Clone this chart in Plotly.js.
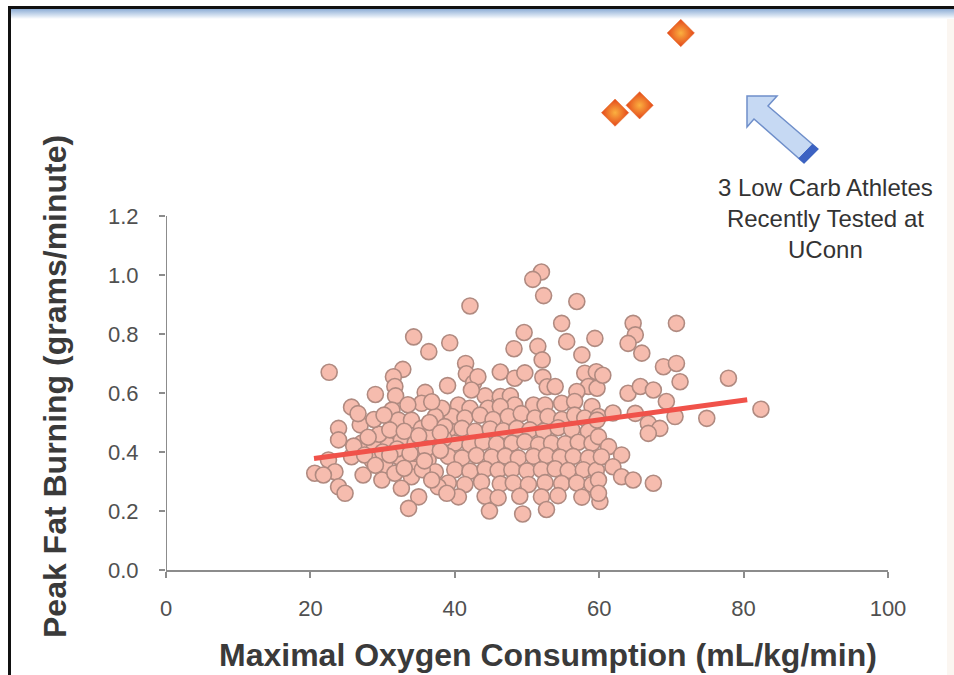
<!DOCTYPE html>
<html>
<head>
<meta charset="utf-8">
<script src="https://cdn.plot.ly/plotly-3.0.1.min.js"></script>
<style>
  html, body { margin: 0; padding: 0; background: #ffffff; }
  #wrap { position: relative; width: 954px; height: 675px; overflow: hidden; }
  #chart { position: absolute; left: 0; top: 0; width: 954px; height: 675px; }
  .frame { position: absolute; pointer-events: none; }
</style>
</head>
<body>
<div id="wrap">
  <div id="chart"></div>
  <div class="frame" style="left:8px;top:6px;width:946px;height:3px;background:#111;"></div>
  <div class="frame" style="left:11px;top:9px;width:943px;height:10px;background:linear-gradient(#8eaed6,#dbe6f3 70%,#ffffff);"></div>
  <div class="frame" style="left:8px;top:6px;width:3px;height:669px;background:#111;"></div>
  <div class="frame" style="left:947px;top:19px;width:7px;height:656px;background:#fbf6f1;"></div>
</div>
<script>
// ---- Data ----
// Maximal oxygen consumption (mL/kg/min) of tested subjects
const vo2max = [
  52.0,50.8,52.3,42.1,56.9,34.3,36.4,39.3,49.6,48.2,51.5,52.1,22.6,32.8,31.5,31.7,31.8,41.5,41.6,42.6,43.2,46.3,48.3,49.7,52.2,52.8,29.0,35.9,39.0,44.2,46.3,47.7,
  54.8,55.5,59.4,57.6,53.9,58.0,59.6,58.5,56.9,42.3,48.3,50.9,52.5,54.8,56.6,59.0,40.5,42.1,44.6,46.3,
  39.6,41.4,43.5,45.3,47.4,49.2,51.1,52.9,54.8,56.6,58.0,59.9,
  39.1,41.0,42.8,44.9,46.7,48.6,50.4,52.3,54.3,56.2,58.5,
  40.0,42.1,43.9,45.8,47.9,49.7,51.6,53.4,55.3,57.1,59.0,
  39.1,41.0,43.0,45.1,47.0,48.8,50.9,52.7,54.6,56.4,58.5,
  40.0,42.1,44.2,46.0,47.9,50.0,52.0,53.9,55.7,57.8,59.6,
  39.1,41.4,43.7,46.3,48.1,50.2,52.5,54.8,56.9,59.0,
  40.5,44.2,46.0,49.0,52.0,54.3,57.6,44.8,49.4,52.7,60.1,
  64.7,70.7,65.0,64.0,65.9,68.9,70.7,71.2,77.9,64.0,65.7,67.5,69.3,59.7,70.5,74.9,66.8,68.4,66.8,65.0,82.4,59.9,61.3,63.1,60.3,61.9,63.1,64.7,67.5,59.9,60.5,59.7,61.9,59.9,
  25.7,26.9,23.9,23.9,31.3,32.2,34.0,35.4,38.2,37.3,35.4,38.6,27.1,28.9,30.8,32.6,34.5,37.3,38.5,22.5,25.7,28.5,30.3,32.2,34.0,36.3,20.6,23.4,27.3,29.9,31.7,34.0,37.3,23.9,24.8,32.6,35.0,37.7,38.9,33.6,21.8,34.7,36.6,
  29.5,31.0,33.0,35.0,36.5,38.0,30.0,32.0,33.8,36.0,38.0,28.0,26.0,27.5,29.0,33.0,35.5,36.8,35.8,31.0,33.5,36.8,28.8,30.2,26.6
];
// Peak fat burning (grams/minute) of the same subjects
const peakFat = [
  1.01,0.985,0.93,0.895,0.91,0.79,0.74,0.77,0.805,0.75,0.758,0.712,0.67,0.68,0.655,0.622,0.59,0.70,0.665,0.634,0.655,0.671,0.65,0.668,0.653,0.621,0.595,0.602,0.625,0.59,0.588,0.59,
  0.836,0.774,0.785,0.729,0.622,0.667,0.672,0.622,0.605,0.61,0.559,0.559,0.559,0.565,0.571,0.554,0.559,0.548,0.548,0.554,
  0.52,0.515,0.525,0.51,0.52,0.53,0.515,0.52,0.51,0.525,0.515,0.52,
  0.475,0.48,0.47,0.478,0.472,0.48,0.475,0.47,0.482,0.476,0.47,
  0.43,0.425,0.433,0.428,0.43,0.435,0.425,0.43,0.428,0.433,0.43,
  0.385,0.38,0.388,0.383,0.386,0.38,0.385,0.388,0.382,0.385,0.38,
  0.34,0.335,0.342,0.338,0.34,0.336,0.34,0.343,0.337,0.34,0.338,
  0.295,0.29,0.298,0.292,0.295,0.29,0.296,0.293,0.295,0.29,
  0.248,0.25,0.245,0.25,0.248,0.252,0.247,0.2,0.19,0.205,0.232,
  0.836,0.836,0.797,0.768,0.735,0.689,0.70,0.638,0.65,0.599,0.622,0.61,0.571,0.616,0.52,0.514,0.497,0.48,0.463,0.531,0.545,0.452,0.418,0.39,0.384,0.35,0.316,0.305,0.294,0.305,0.66,0.508,0.532,0.26,
  0.552,0.492,0.48,0.441,0.542,0.508,0.508,0.565,0.548,0.52,0.48,0.486,0.43,0.418,0.424,0.441,0.43,0.435,0.445,0.373,0.384,0.373,0.356,0.384,0.356,0.373,0.328,0.333,0.322,0.305,0.328,0.316,0.333,0.282,0.26,0.277,0.248,0.282,0.26,0.209,0.322,0.395,0.463,
  0.46,0.475,0.47,0.455,0.50,0.465,0.40,0.41,0.395,0.41,0.405,0.45,0.42,0.39,0.355,0.345,0.34,0.305,0.37,0.39,0.56,0.57,0.51,0.525,0.53
];
// Linear trend line end points
const trendX = [20.5, 80.5];
const trendY = [0.378, 0.577];
// 3 low carb athletes
const athleteX = [62.2, 65.6, 71.3];
const athleteY = [1.55, 1.575, 1.82];
// Axis ticks
const xTicks = [0, 20, 40, 60, 80, 100];
const xTickText = ['0', '20', '40', '60', '80', '100'];
const yTicks = [0, 0.2, 0.4, 0.6, 0.8, 1.0, 1.2];
const yTickText = ['0.0', '0.2', '0.4', '0.6', '0.8', '1.0', '1.2'];
const xTitle = 'Maximal Oxygen Consumption (mL/kg/min)';
const yTitle = 'Peak Fat Burning (grams/minute)';
const noteText = '3 Low Carb Athletes<br>Recently Tested at<br>UConn';

// ---- Layout geometry ----
const W = 954, H = 675;
const M = { l: 166, r: 66, t: 15, b: 105 };
const plotW = W - M.l - M.r, plotH = H - M.t - M.b;
const yTop = 1.881;
function px(x) { return (x - M.l) / plotW; }
function py(y) { return (H - M.b - y) / plotH; }
function pathFrom(pts) {
  return 'M' + pts.map(p => px(p[0]).toFixed(4) + ',' + py(p[1]).toFixed(4)).join(' L') + ' Z';
}
const arrowPts = [[747,96],[777,96],[768,106],[818,149],[804,163],[754,119],[747,127]];
const capPts = [[812.5,144.3],[818,149],[804,163],[798.8,158.4]];

const axisGray = '#8c8c8c';
const tickFont = { family: 'Liberation Sans, Arial, sans-serif', size: 22, color: '#505050' };

const traces = [
  {
    type: 'scatter', mode: 'markers', x: vo2max, y: peakFat, name: 'Subjects',
    marker: { size: 16, color: '#f6bcae', line: { color: '#b08a80', width: 1.6 } },
    hoverinfo: 'x+y', showlegend: false
  },
  {
    type: 'scatter', mode: 'lines', x: trendX, y: trendY, name: 'Trend',
    line: { color: '#f0524a', width: 5 }, showlegend: false
  },
  {
    type: 'scatter', mode: 'markers', x: athleteX, y: athleteY, name: 'Low Carb Athletes',
    marker: { symbol: 'diamond', size: 21, color: '#e4461a',
      gradient: { type: 'radial', color: '#fbb040' }, line: { color: '#e06a2a', width: 0.5 } },
    showlegend: false
  }
];

const layout = {
  width: W, height: H,
  margin: M,
  paper_bgcolor: '#ffffff', plot_bgcolor: 'rgba(0,0,0,0)',
  showlegend: false,
  xaxis: {
    range: [0, 100], tickvals: xTicks, ticktext: xTickText,
    showgrid: false, zeroline: false, showline: true, linecolor: axisGray, linewidth: 2,
    ticks: 'outside', ticklen: 6, tickwidth: 2, tickcolor: axisGray,
    tickfont: tickFont, ticklabelstandoff: 12
  },
  yaxis: {
    range: [0, yTop], tickvals: yTicks, ticktext: yTickText,
    showgrid: false, zeroline: false, showline: false,
    ticks: 'outside', ticklen: 6, tickwidth: 2, tickcolor: axisGray,
    tickfont: tickFont, ticklabelstandoff: 16
  },
  shapes: [
    { type: 'line', xref: 'x', yref: 'y', x0: 0, x1: 0, y0: 0, y1: yTicks[yTicks.length - 1],
      line: { color: axisGray, width: 2 }, layer: 'below' },
    { type: 'path', xref: 'paper', yref: 'paper', path: pathFrom(arrowPts),
      fillcolor: '#c6d9f3', line: { color: '#6f8fca', width: 1.5 } },
    { type: 'path', xref: 'paper', yref: 'paper', path: pathFrom(capPts),
      fillcolor: '#3c62c2', line: { color: '#3c62c2', width: 1 } }
  ],
  annotations: [
    { xref: 'paper', yref: 'paper', x: px(548), y: py(655), xanchor: 'center', yanchor: 'middle',
      text: '<b>' + xTitle + '</b>', showarrow: false,
      font: { family: 'Liberation Sans, Arial, sans-serif', size: 32, color: '#3a3a3a' } },
    { xref: 'paper', yref: 'paper', x: px(55), y: py(387), xanchor: 'center', yanchor: 'middle',
      text: '<b>' + yTitle + '</b>', showarrow: false, textangle: -90,
      font: { family: 'Liberation Sans, Arial, sans-serif', size: 32, color: '#3a3a3a' } },
    { xref: 'paper', yref: 'paper', x: px(825), y: py(218), xanchor: 'center', yanchor: 'middle',
      text: noteText, showarrow: false, align: 'center',
      font: { family: 'Liberation Sans, Arial, sans-serif', size: 24, color: '#333333' } }
  ]
};

Plotly.newPlot('chart', traces, layout, { staticPlot: true, displayModeBar: false });
</script>
</body>
</html>
